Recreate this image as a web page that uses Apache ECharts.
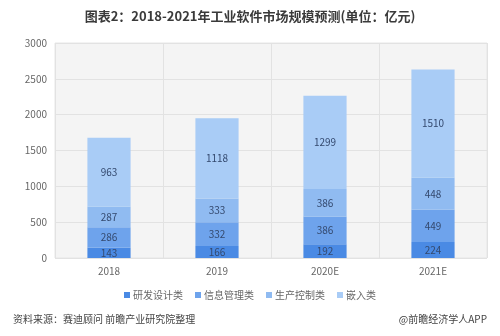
<!DOCTYPE html>
<html><head><meta charset="utf-8">
<script src="https://cdn.jsdelivr.net/npm/echarts@6/dist/echarts.min.js"></script>
<style>html,body{margin:0;padding:0;background:#fff}#c{width:500px;height:336px}</style>
</head><body><div id="c"></div>
<script>
var categories = ['2018', '2019', '2020E', '2021E'];
var seriesNames = ['研发设计类', '信息管理类', '生产控制类', '嵌入类'];
var rdDesign = [143, 166, 192, 224];
var infoMgmt = [286, 332, 386, 449];
var prodCtrl = [287, 333, 386, 448];
var embedded = [963, 1118, 1299, 1510];
var yTicks = [0, 500, 1000, 1500, 2000, 2500, 3000];

var colors = ['#4a8ae4', '#6ea3ec', '#90bbf1', '#a9ccf6'];
var values = [rdDesign, infoMgmt, prodCtrl, embedded];
var font = '"Noto Sans CJK SC", "Microsoft YaHei", sans-serif';
var chart = echarts.init(document.getElementById('c'));
chart.setOption({
  animation: false,
  color: colors,
  title: {
    text: '图表2：2018-2021年工业软件市场规模预测(单位：亿元)',
    left: 'center', top: 5,
    textStyle: {fontSize: 13, fontWeight: 'bold', color: '#3a3a3a', fontFamily: font}
  },
  grid: {left: 55, right: 13, top: 43, bottom: 78, show: true,
    backgroundColor: '#f4f4f4', borderColor: '#e6e6e6', borderWidth: 1},
  legend: {
    bottom: 31, left: 'center', itemWidth: 6, itemHeight: 6, itemGap: 12,
    icon: 'rect',
    textStyle: {fontSize: 10, color: '#666', fontFamily: font, padding: [0, 0, 0, -2]},
    data: seriesNames
  },
  xAxis: {
    type: 'category', data: categories,
    axisLine: {show: false}, axisTick: {show: false},
    axisLabel: {fontSize: 10, color: '#666', margin: 8, fontFamily: font},
    splitLine: {show: true, lineStyle: {color: '#e2e2e2'}}
  },
  yAxis: {
    type: 'value', min: yTicks[0], max: yTicks[yTicks.length - 1], interval: 500,
    axisLine: {show: false}, axisTick: {show: false},
    axisLabel: {fontSize: 10, color: '#666', margin: 8, fontFamily: font,
      formatter: function (v) { return String(v); }},
    splitLine: {show: true, lineStyle: {color: '#e2e2e2'}}
  },
  series: seriesNames.map(function (n, i) {
    return {
      name: n, type: 'bar', stack: 'total', barWidth: '40%',
      data: values[i],
      itemStyle: {color: colors[i]},
      label: {show: true, position: 'inside', fontSize: 10, color: '#34496e', fontFamily: font}
    };
  }),
  graphic: [
    {type: 'text', left: 13, top: 314,
      style: {text: '资料来源：赛迪顾问 前瞻产业研究院整理', fontSize: 10, fill: '#444', fontFamily: font}},
    {type: 'text', right: 13, top: 314,
      style: {text: '@前瞻经济学人APP', fontSize: 10, fill: '#444', fontFamily: font}}
  ]
});
</script></body></html>
